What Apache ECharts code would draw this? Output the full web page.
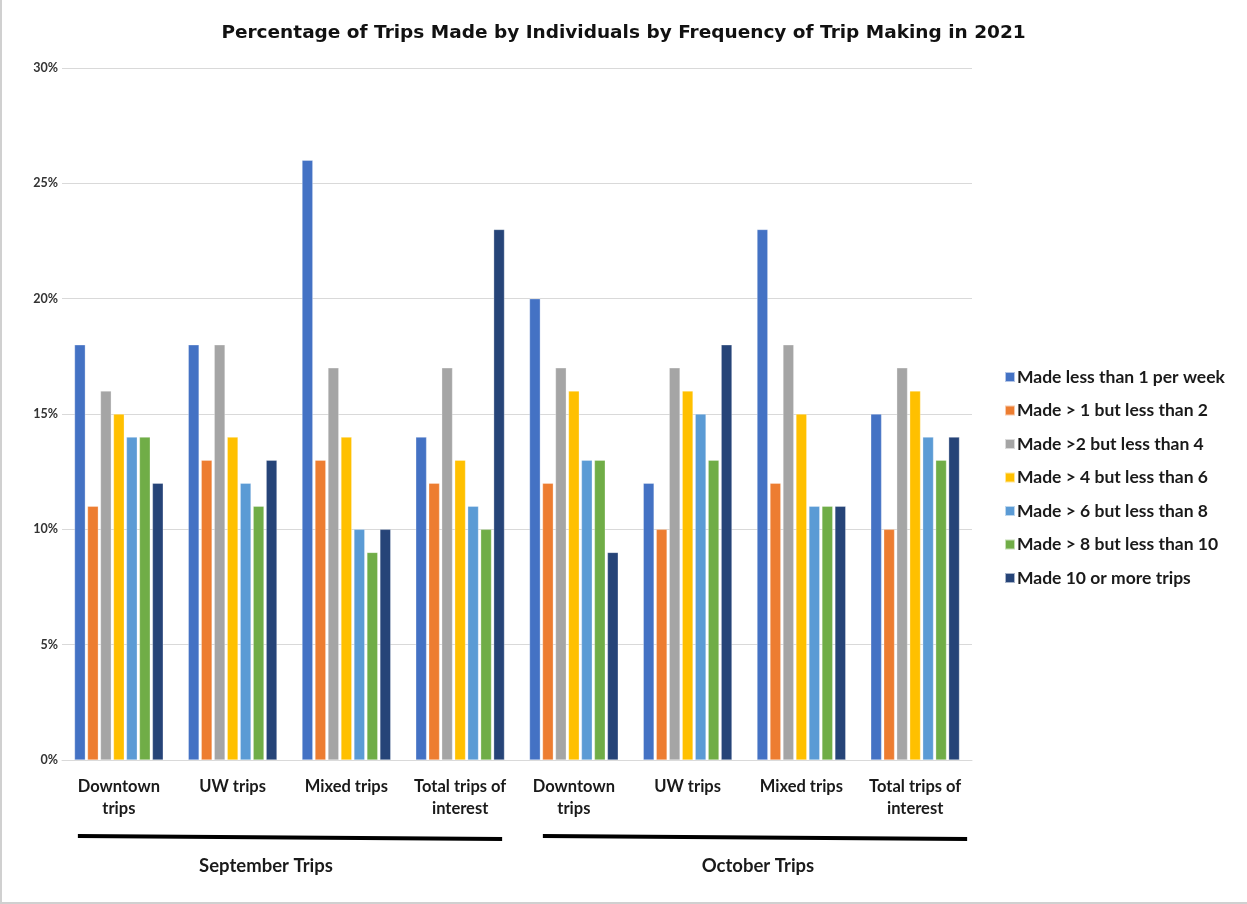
<!DOCTYPE html>
<html>
<head>
<meta charset="utf-8">
<script src="https://cdn.jsdelivr.net/npm/echarts@6/dist/echarts.min.js"></script>
<style>
html,body{margin:0;padding:0;background:#fff;}
#wrap{position:relative;width:1247px;height:904px;}
#chart{width:1247px;height:904px;}
#frame{position:absolute;left:0;top:0;width:1247px;height:904px;box-sizing:border-box;border:1px solid #d0d0d0;border-width:0 0 2px 2px;pointer-events:none;}
</style>
</head>
<body>
<div id="wrap"><div id="chart"></div><div id="frame"></div></div>
<script>
const categories = ['Downtown\ntrips','UW trips','Mixed trips','Total trips of\ninterest','Downtown\ntrips','UW trips','Mixed trips','Total trips of\ninterest'];
const groupLabels = ['September Trips','October Trips'];
const yTicks = [0,5,10,15,20,25,30];
const seriesNames = ['Made less than 1 per week','Made > 1 but less than 2','Made >2 but less than 4','Made > 4 but less than 6','Made > 6 but less than 8','Made > 8 but less than 10','Made 10 or more trips'];
const lessThan1 = [18,18,26,14,20,12,23,15];
const from1to2  = [11,13,13,12,12,10,12,10];
const from2to4  = [16,18,17,17,17,17,18,17];
const from4to6  = [15,14,14,13,16,16,15,16];
const from6to8  = [14,12,10,11,13,15,11,14];
const from8to10 = [14,11,9,10,13,13,11,13];
const tenOrMore = [12,13,10,23,9,18,11,14];
const colors = ['#4472C4','#ED7D31','#A5A5A5','#FFC000','#5B9BD5','#70AD47','#264478'];

const allValues = [lessThan1,from1to2,from2to4,from4to6,from6to8,from8to10,tenOrMore];
const FONT = 'Lato, "Liberation Sans", sans-serif';
const chart = echarts.init(document.getElementById('chart'));
const option = {
  animation:false,
  color: colors,
  title:{
    text:'Percentage of Trips Made by Individuals by Frequency of Trip Making in 2021',
    left:'center', top:19,
    textStyle:{fontFamily:'"DejaVu Sans", "Open Sans", sans-serif',fontSize:18.5,fontWeight:'bold',color:'#111'}
  },
  legend:{
    orient:'vertical', left:999, top:362,
    itemWidth:10, itemHeight:10, itemGap:13.5, icon:'rect',
    textStyle:{fontFamily:FONT,fontSize:17.5,lineHeight:20,color:'#1a1a1a',fontWeight:'bold',padding:[0,0,0,-3]},
    data: seriesNames
  },
  grid:{left:62,right:275,top:68,bottom:144},
  xAxis:[{
    type:'category', data:categories,
    axisLine:{lineStyle:{color:'#d9d9d9'}},
    axisTick:{show:false},
    axisLabel:{fontFamily:FONT,fontSize:16.5,fontWeight:'bold',color:'#1a1a1a',margin:16,lineHeight:22,interval:0}
  },{
    type:'category', data:groupLabels, position:'bottom', offset:89,
    axisLine:{show:false}, axisTick:{show:false},
    axisLabel:{
      interval:0,
      formatter:(v,i)=> i===0 ? '{a|'+v+'}' : '{b|'+v+'}',
      rich:{
        a:{fontFamily:FONT,fontSize:18.5,fontWeight:'bold',color:'#1a1a1a',padding:[0,47,0,0]},
        b:{fontFamily:FONT,fontSize:18.5,fontWeight:'bold',color:'#1a1a1a',padding:[0,0,0,27]}
      }
    }
  }],
  yAxis:{
    type:'value', min:0, max:30, interval:5,
    axisLine:{show:false}, axisTick:{show:false},
    splitLine:{lineStyle:{color:'#d9d9d9'}},
    axisLabel:{fontFamily:FONT,fontSize:12.5,fontWeight:'bold',color:'#333',formatter:v=>v+'%',margin:4}
  },
  series: seriesNames.map((n,i)=>({
    name:n, type:'bar', data:allValues[i],
    barGap:'20%', barCategoryGap:'22%',
    itemStyle:{borderColor:'rgba(255,255,255,0.6)',borderWidth:0.5}
  }))
};
chart.setOption(option);

// decorative group underline bars
const spans = [[0,3,-41,42],[4,7,-31,52]];
const lines = spans.map(([a,b,da,db])=>{
  const xa = chart.convertToPixel({xAxisIndex:0}, a);
  const xb = chart.convertToPixel({xAxisIndex:0}, b);
  return {type:'line',shape:{x1:xa+da,y1:836,x2:xb+db,y2:839},style:{stroke:'#000',lineWidth:4}};
});
chart.setOption({graphic:lines});
</script>
</body>
</html>
